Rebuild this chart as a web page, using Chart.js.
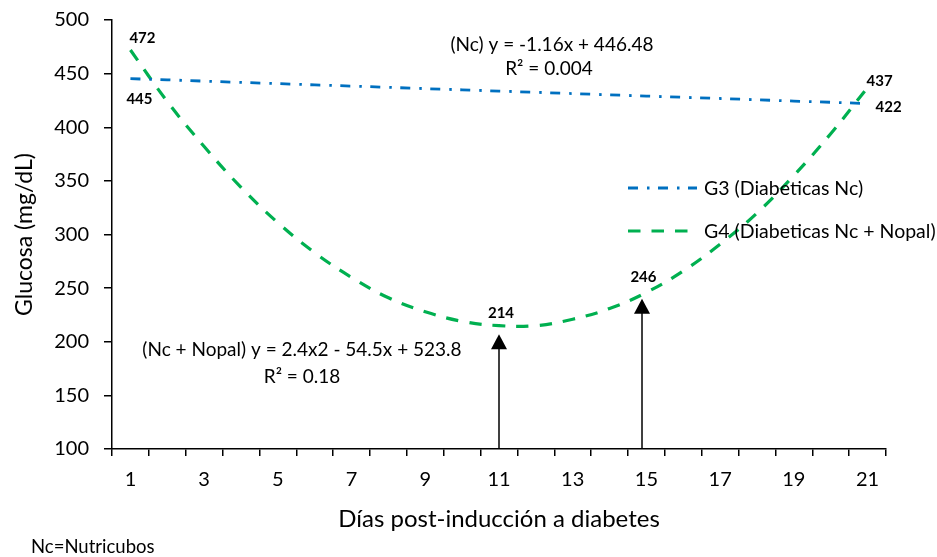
<!DOCTYPE html>
<html>
<head>
<meta charset="utf-8">
<script src="https://cdn.jsdelivr.net/npm/chart.js@4.4.0/dist/chart.umd.min.js"></script>
<style>
  html, body { margin: 0; padding: 0; background: #fff; }
  #wrap { width: 937px; height: 557px; }
</style>
</head>
<body>
<div id="wrap"><canvas id="glucosa" width="937" height="557"></canvas></div>
<script>
/* ───────────────────────────── data */
const days        = ['1','2','3','4','5','6','7','8','9','10','11','12','13','14','15','16','17','18','19','20','21'];
const xTickLabels = ['1','3','5','7','9','11','13','15','17','19','21'];

// G3 (Diabeticas Nc) – linear trend
const g3Values = [445.3, 444.2, 443.0, 441.8, 440.7, 439.5, 438.4, 437.2, 436.0, 434.9, 433.7,
                  432.6, 431.4, 430.2, 429.1, 427.9, 426.8, 425.6, 424.4, 423.3, 422.1];
// G4 (Diabeticas Nc + Nopal) – polynomial trend
const g4Values = [472, 424, 382, 344, 311, 283, 260, 241, 228, 219, 215,
                  215, 221, 231, 246, 266, 291, 320, 355, 394, 437];

// bold value labels
const labelDays   = [1, 1, 11, 15, 21, 21];
const labelValues = [472, 445, 214, 246, 437, 422];

// arrows (day, tip value)
const arrowDays = [11, 14.88];
const arrowTips = [207, 240];

const seriesNames = ['G3 (Diabeticas Nc)', 'G4 (Diabeticas Nc + Nopal)'];
const eqNc    = ['(Nc) y = -1.16x + 446.48', 'R² = 0.004'];
const eqNopal = ['(Nc + Nopal) y = 2.4x2 - 54.5x + 523.8', 'R² = 0.18'];
const footnote = 'Nc=Nutricubos';

/* ───────────────────────────── styles */
const FONT   = 'Lato';
const BLUE   = '#0070C0';
const GREEN  = '#00B050';
const DASH_B = [10, 9, 2.5, 8.5];
const DASH_G = [12.5, 11];

/* ───────────────────────────── annotations plugin */
const annotations = {
  id: 'annotations',
  afterDatasetsDraw(chart) {
    const { ctx } = chart;
    const x = chart.scales.x, y = chart.scales.y;
    ctx.save();

    // arrows
    ctx.fillStyle = '#000';
    ctx.strokeStyle = '#000';
    ctx.lineWidth = 1.5;
    arrowDays.forEach((d, i) => {
      const px  = x.getPixelForValue(d - 1);
      const tip = y.getPixelForValue(arrowTips[i]);
      ctx.beginPath();
      ctx.moveTo(px, y.getPixelForValue(100));
      ctx.lineTo(px, tip + 10);
      ctx.stroke();
      ctx.beginPath();
      ctx.moveTo(px, tip);
      ctx.lineTo(px - 8, tip + 15);
      ctx.lineTo(px + 8, tip + 15);
      ctx.closePath();
      ctx.fill();
    });

    // value labels
    const offs = [[12, -12], [9, 20], [2, -14], [-3, -15], [12, -6], [21, 4]];
    ctx.font = `bold 15px ${FONT}`;
    ctx.textAlign = 'center';
    ctx.textBaseline = 'middle';
    labelDays.forEach((d, i) => {
      ctx.fillText(String(labelValues[i]),
        x.getPixelForValue(d - 1) + offs[i][0],
        y.getPixelForValue(labelValues[i]) + offs[i][1]);
    });

    // equations
    ctx.font = `19px ${FONT}`;
    ctx.fillStyle = '#000';
    ctx.fillText(eqNc[0], 552, 45);
    ctx.fillText(eqNc[1], 549, 69);
    ctx.fillText(eqNopal[0], 302, 350);
    ctx.fillText(eqNopal[1], 302, 377);

    // legend
    const leg = [[BLUE, DASH_B, 2.8, 188], [GREEN, DASH_G, 3.2, 231]];
    ctx.textAlign = 'left';
    leg.forEach(([col, dash, w, ly], i) => {
      ctx.strokeStyle = col;
      ctx.lineWidth = w;
      ctx.setLineDash(dash);
      ctx.beginPath();
      ctx.moveTo(628, ly);
      ctx.lineTo(697, ly);
      ctx.stroke();
      ctx.setLineDash([]);
      ctx.fillStyle = '#000';
      ctx.font = `19.5px ${FONT}`;
      ctx.fillText(seriesNames[i], 704, ly + 1);
    });

    // footnote
    ctx.font = `18.5px ${FONT}`;
    ctx.fillText(footnote, 31, 547);
    ctx.restore();
  }
};

/* ───────────────────────────── chart */
new Chart(document.getElementById('glucosa').getContext('2d'), {
  type: 'line',
  data: {
    labels: days,
    datasets: [
      { label: seriesNames[0], data: g3Values, borderColor: BLUE, borderWidth: 2.8,
        borderDash: DASH_B, pointRadius: 0, fill: false, tension: 0 },
      { label: seriesNames[1], data: g4Values, borderColor: GREEN, borderWidth: 3.2,
        borderDash: DASH_G, pointRadius: 0, fill: false, tension: 0.4 }
    ]
  },
  options: {
    responsive: false,
    animation: false,
    devicePixelRatio: 1,
    layout: { padding: { top: 20, right: 51, left: 0, bottom: 0 } },
    plugins: { legend: { display: false }, tooltip: { enabled: false } },
    scales: {
      x: {
        type: 'category',
        offset: true,
        grid: { offset: true, drawOnChartArea: false, tickLength: 7, color: '#000', lineWidth: 1.5 },
        border: { color: '#000', width: 1.5 },
        ticks: {
          autoSkip: false, maxRotation: 0, padding: 12, color: '#000',
          font: { family: FONT, size: 20 },
          callback: (v, i) => xTickLabels.includes(days[i]) ? days[i] : ''
        },
        title: {
          display: true, text: 'Días post-inducción a diabetes', color: '#000',
          font: { family: FONT, size: 24 }, padding: { top: 0, bottom: 23 }
        },
        afterFit: s => { s.height = 108; s.paddingLeft = 0; s.paddingRight = 0; }
      },
      y: {
        min: 100, max: 500,
        grid: { drawOnChartArea: false, tickLength: 8, color: '#000', lineWidth: 1.5 },
        border: { color: '#000', width: 1.5 },
        ticks: { stepSize: 50, padding: 15, color: '#000', font: { family: FONT, size: 20 } },
        title: {
          display: true, text: 'Glucosa (mg/dL)', color: '#000',
          font: { family: FONT, size: 23 }, padding: { top: 11, bottom: 0 }
        },
        afterFit: s => { s.width = 112; s.paddingTop = 0; s.paddingBottom = 0; }
      }
    }
  },
  plugins: [annotations]
});
</script>
</body>
</html>
